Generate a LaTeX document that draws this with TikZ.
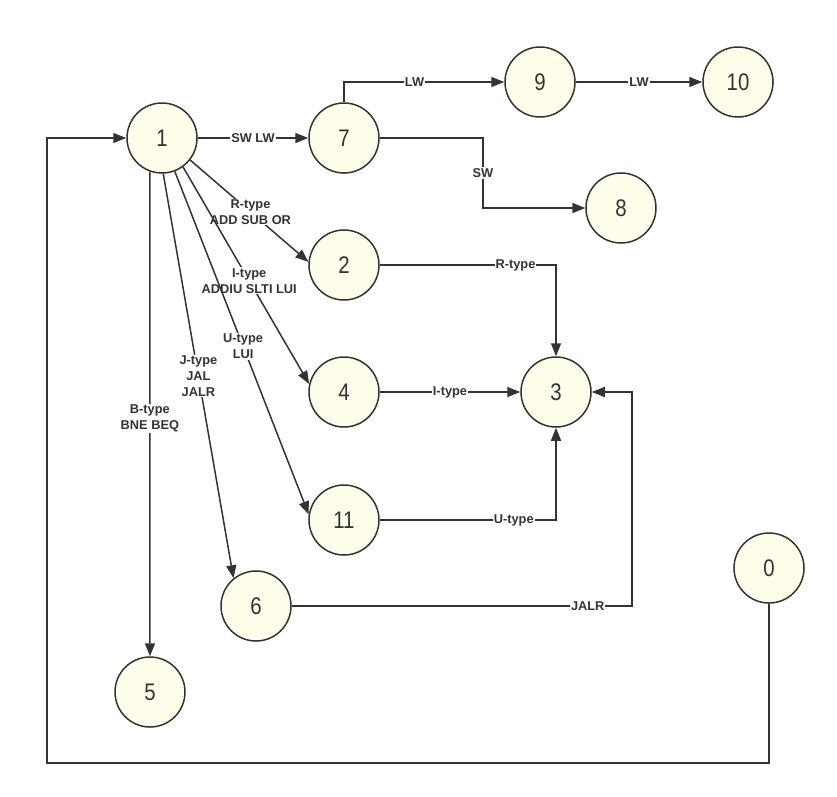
\documentclass[tikz,border=0pt]{standalone}
\usepackage{fontspec}
\setmainfont{Liberation Sans}
\usetikzlibrary{arrows.meta}
\definecolor{stfill}{RGB}{254,254,234}
\definecolor{ln}{RGB}{51,51,51}
\newcommand{\numtxt}[1]{\scalebox{0.85}[1]{#1}}
\begin{document}
\begin{tikzpicture}[x=1pt,y=-1pt,
  state/.style={circle, draw=ln, line width=1.5pt, fill=stfill, minimum size=70pt, inner sep=0pt, text=ln, font=\fontsize{24}{24}\selectfont},
  lab/.style={fill=white, inner sep=1pt, text=ln, align=center, font=\bfseries\fontsize{12.8}{16}\selectfont},
  edge/.style={draw=ln, line width=1.5pt, -{Triangle[length=13pt,width=10pt]}}]
\useasboundingbox[fill=white] (0,0) rectangle (837,796);
\node[state] (n1) at (162,138) {\numtxt{1}};
\node[state] (n7) at (344,138) {\numtxt{7}};
\node[state] (n9) at (540,82) {\numtxt{9}};
\node[state] (n10) at (738,82) {\numtxt{10}};
\node[state] (n8) at (621,208) {\numtxt{8}};
\node[state] (n2) at (344,265) {\numtxt{2}};
\node[state] (n3) at (556,392) {\numtxt{3}};
\node[state] (n4) at (344,392) {\numtxt{4}};
\node[state] (n11) at (344,520) {\numtxt{11}};
\node[state] (n6) at (256,606) {\numtxt{6}};
\node[state] (n5) at (150,692) {\numtxt{5}};
\node[state] (n0) at (769,568) {\numtxt{0}};
\coordinate (c78) at (483,138);
\coordinate (c63) at (632,606);
\coordinate (c01) at (47,763);
% from 1
\draw[edge] (n1) -- node[lab]{SW LW} (n7);
\draw[edge] (n1.-38) -- node[lab,pos=0.51]{R-type\\ADD SUB OR} (n2.175);
\draw[edge] (n1.-54) -- node[lab,pos=0.525]{I-type\\ADDIU SLTI LUI} (n4.167);
\draw[edge] (n1.-69) -- node[lab,pos=0.51]{U-type\\LUI} (n11.171);
\draw[edge] (n1.-88) -- node[lab,pos=0.5]{J-type\\JAL\\JALR} (n6.129);
\draw[edge] (n1.-110) -- node[lab,pos=0.51]{B-type\\BNE BEQ} (n5.north);
% from 7
\draw[edge] (n7.north) |- node[lab,pos=0.72]{LW} (n9.west);
\draw[edge] (n9) -- node[lab]{LW} (n10);
\draw[edge] (n7.east) -- (c78) -- node[lab]{SW} (c78 |- n8) -- (n8.west);
% into 3
\draw[edge] (n2.east) -| node[lab,pos=0.385]{R-type} (n3.north);
\draw[edge] (n4) -- node[lab]{I-type} (n3);
\draw[edge] (n11.east) -| node[lab,pos=0.38]{U-type} (n3.south);
\draw[edge] (n6.east) -- node[lab,pos=0.87]{JALR} (c63) |- (n3.east);
% from 0
\draw[edge] (n0.south) |- (c01) |- (n1.west);
\end{tikzpicture}
\end{document}
